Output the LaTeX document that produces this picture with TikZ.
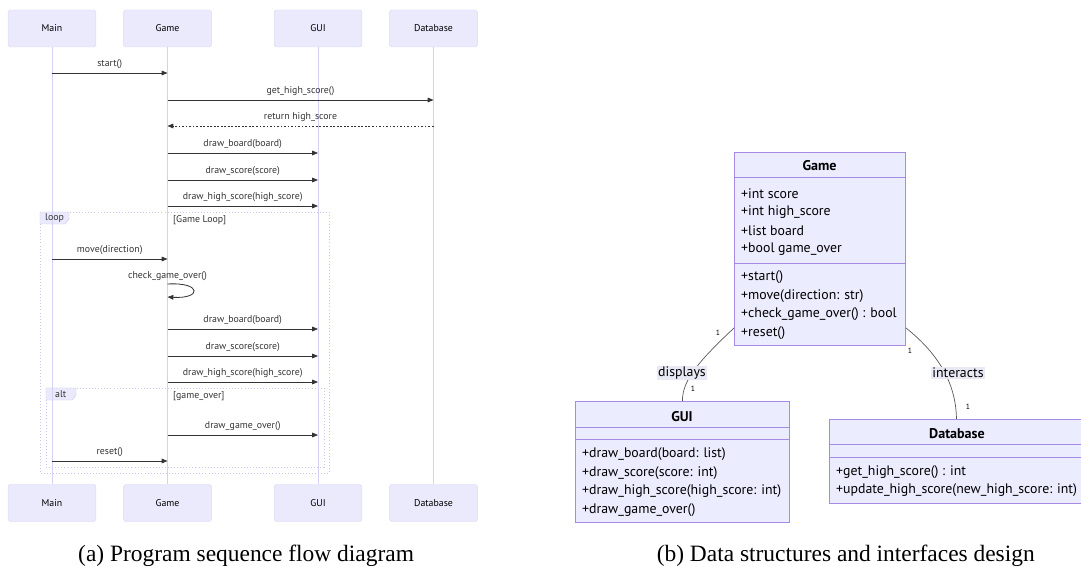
\documentclass[tikz,border=0pt]{standalone}
\usepackage{fontspec}
\setmainfont{Liberation Serif}
\newfontfamily\diagfont{PT Sans}
\usetikzlibrary{arrows.meta}

\definecolor{actfill}{HTML}{EAEAFC}
\definecolor{actline}{HTML}{DCD6F7}
\definecolor{lifecol}{HTML}{D8CFF5}
\definecolor{clsfill}{HTML}{ECECFF}
\definecolor{clsline}{HTML}{A68BE6}
\definecolor{framecol}{HTML}{CBC3EE}
\definecolor{ink}{HTML}{333333}
\definecolor{elblfill}{HTML}{E9E9F5}

\begin{document}
\begin{tikzpicture}[x=0.03cm,y=-0.03cm,
  actor/.style={draw=actline,fill=actfill,rounded corners=1.5pt,minimum width=2.63cm,
    minimum height=1.11cm,font=\diagfont\fontsize{8.4}{9}\selectfont},
  life/.style={lifecol,line width=0.8pt},
  msg/.style={ink,line width=0.7pt,-{Triangle[length=5pt,width=4pt]}},
  ret/.style={msg,dash pattern=on 1.5pt off 1.5pt},
  lbl/.style={font=\diagfont\fontsize{8.4}{9}\selectfont,text=ink,inner sep=0pt},
  frame/.style={framecol,dotted,line width=0.6pt},
  tab/.style={fill=actfill,draw=framecol,line width=0.4pt},
  clsbox/.style={draw=clsline,fill=clsfill,line width=0.8pt,anchor=north west,inner sep=0pt},
  sep/.style={clsline,line width=0.8pt},
  title/.style={font=\diagfont\bfseries\fontsize{12}{13}\selectfont,inner sep=0pt},
  member/.style={font=\diagfont\fontsize{11.8}{13}\selectfont,anchor=west,inner sep=0pt},
  edge/.style={black!65,line width=0.6pt},
  elbl/.style={font=\diagfont\fontsize{11.8}{13}\selectfont,fill=elblfill,inner sep=1pt},
  mult/.style={font=\diagfont\fontsize{6.5}{7}\selectfont,inner sep=0pt},
  caption/.style={font=\fontsize{20}{24}\selectfont,inner sep=0pt}]
 \useasboundingbox (0,0) rectangle (1081,567);

 % (a) sequence diagram
 \draw[frame] (40,212) rectangle (329,473);
 \draw[tab] (40,212) -- (69,212) -- (69,219) -- (65,224) -- (40,224) -- cycle;
 \draw[frame] (46,388) rectangle (324,467);
 \draw[tab] (46,388) -- (76,388) -- (76,395) -- (72,400) -- (46,400) -- cycle;

 \node[actor] (mainT) at (52,28.5) {Main};
 \node[actor] (gameT) at (167.5,28.5) {Game};
 \node[actor] (guiT) at (318,28.5) {GUI};
 \node[actor] (dbT) at (433.5,28.5) {Database};
 \node[actor] (mainB) at (52,503) {Main};
 \node[actor] (gameB) at (167.5,503) {Game};
 \node[actor] (guiB) at (318,503) {GUI};
 \node[actor] (dbB) at (433.5,503) {Database};
 \draw[life] (mainT) -- (mainB);
 \draw[life] (gameT) -- (gameB);
 \draw[life] (guiT) -- (guiB);
 \draw[life] (dbT) -- (dbB);

 \node[lbl,anchor=west] (loopTag) at (45,218.5) {loop};
 \node[lbl,anchor=west] (loopCond) at (173,220) {[Game Loop]};
 \node[lbl,anchor=west] (altTag) at (55,394.5) {alt};
 \node[lbl,anchor=west] (altCond) at (173,396) {[game\_over]};

 \draw[msg] (mainT |- 0,73) -- node[lbl,yshift=0.27cm]{start()} (gameT |- 0,73);
 \draw[msg] (gameT |- 0,100) -- node[lbl,yshift=0.27cm]{get\_high\_score()} (dbT |- 0,100);
 \draw[ret] (dbT |- 0,126) -- node[lbl,yshift=0.27cm]{return high\_score} (gameT |- 0,126);
 \draw[msg] (gameT |- 0,153) -- node[lbl,yshift=0.27cm]{draw\_board(board)} (guiT |- 0,153);
 \draw[msg] (gameT |- 0,180) -- node[lbl,yshift=0.27cm]{draw\_score(score)} (guiT |- 0,180);
 \draw[msg] (gameT |- 0,206) -- node[lbl,yshift=0.27cm]{draw\_high\_score(high\_score)} (guiT |- 0,206);
 \draw[msg] (mainT |- 0,259) -- node[lbl,yshift=0.27cm]{move(direction)} (gameT |- 0,259);
 \node[lbl] (chkLbl) at (167.5,276) {check\_game\_over()};
 \draw[msg] (gameT |- 0,284) .. controls (202,282) and (202,299) .. (gameT |- 0,297);
 \draw[msg] (gameT |- 0,329) -- node[lbl,yshift=0.27cm]{draw\_board(board)} (guiT |- 0,329);
 \draw[msg] (gameT |- 0,356) -- node[lbl,yshift=0.27cm]{draw\_score(score)} (guiT |- 0,356);
 \draw[msg] (gameT |- 0,382) -- node[lbl,yshift=0.27cm]{draw\_high\_score(high\_score)} (guiT |- 0,382);
 \draw[msg] (gameT |- 0,435) -- node[lbl,yshift=0.27cm]{draw\_game\_over()} (guiT |- 0,435);
 \draw[msg] (mainT |- 0,461) -- node[lbl,yshift=0.27cm]{reset()} (gameT |- 0,461);

 % (b) class diagram
 \node[clsbox,minimum width=5.13cm,minimum height=5.79cm] (game) at (734,152) {};
 \draw[sep] (game.west |- 0,177) -- (game.east |- 0,177);
 \draw[sep] (game.west |- 0,263) -- (game.east |- 0,263);
 \node[title] (gameTitle) at (819.5,166) {Game};
 \node[member] (g1) at (741,194) {+int score};
 \node[member] (g2) at (741,212.5) {+int high\_score};
 \node[member] (g3) at (741,231) {+list board};
 \node[member] (g4) at (741,249.5) {+bool game\_over};
 \node[member] (g5) at (741,277) {+start()};
 \node[member] (g6) at (741,295.6) {+move(direction: str)};
 \node[member] (g7) at (741,314.2) {+check\_game\_over() : bool};
 \node[member] (g8) at (741,332.8) {+reset()};

 \node[clsbox,minimum width=6.42cm,minimum height=3.63cm] (gui) at (575,401) {};
 \draw[sep] (gui.west |- 0,427) -- (gui.east |- 0,427);
 \draw[sep] (gui.west |- 0,439) -- (gui.east |- 0,439);
 \node[title] (guiTitle) at (682,417) {GUI};
 \node[member] (u1) at (582,454.5) {+draw\_board(board: list)};
 \node[member] (u2) at (582,473) {+draw\_score(score: int)};
 \node[member] (u3) at (582,491.5) {+draw\_high\_score(high\_score: int)};
 \node[member] (u4) at (582,510) {+draw\_game\_over()};

 \node[clsbox,minimum width=7.62cm,minimum height=2.52cm] (db) at (829,419) {};
 \draw[sep] (db.west |- 0,444) -- (db.east |- 0,444);
 \draw[sep] (db.west |- 0,457) -- (db.east |- 0,457);
 \node[title] (dbTitle) at (957,434) {Database};
 \node[member] (d1) at (836,472) {+get\_high\_score() : int};
 \node[member] (d2) at (836,490.5) {+update\_high\_score(new\_high\_score: int)};

 \draw[edge] ([yshift=0.54cm]game.south west) .. controls (700,360) and (682,380) .. (gui.north);
 \draw[edge] ([yshift=0.54cm]game.south east) .. controls (940,355) and (956,385) .. (db.north);
 \node[elbl] (dispLbl) at (682,373) {displays};
 \node[elbl] (interLbl) at (958,373) {interacts};
 \node[mult] (m1) at (718,333) {1};
 \node[mult] (m2) at (693,389) {1};
 \node[mult] (m3) at (910,351) {1};
 \node[mult] (m4) at (968,407) {1};

 \node[caption,anchor=base west] (capA) at (78,561) {(a) Program sequence flow diagram};
 \node[caption,anchor=base east] (capB) at (1035,561) {(b) Data structures and interfaces design};
\end{tikzpicture}
\end{document}
